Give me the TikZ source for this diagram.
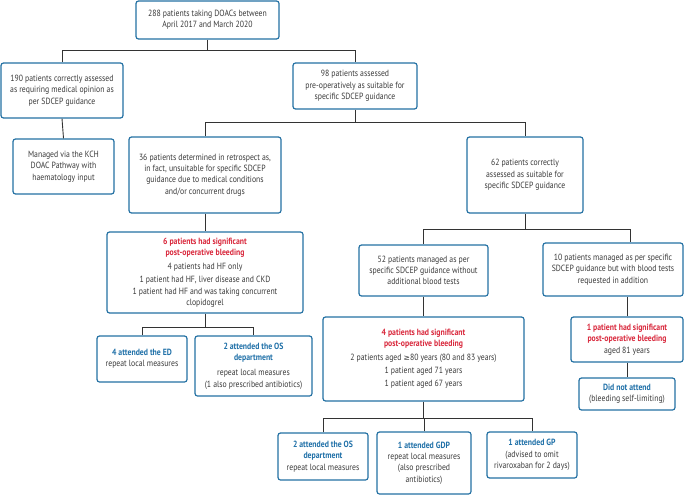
\documentclass[tikz,border=0pt]{standalone}
\usepackage{fontspec}
\setmainfont{PT Sans}[FakeStretch=0.86]
\newfontfamily\symfont{DejaVu Sans}[Scale=0.85]
\usetikzlibrary{positioning}
\definecolor{boxblue}{HTML}{2471A3}
\definecolor{headblue}{HTML}{1F70A8}
\definecolor{headred}{HTML}{D9283C}
\definecolor{txtgray}{HTML}{3A3A3A}
\definecolor{linegray}{HTML}{333333}
\newcommand{\hblue}[1]{{\bfseries\color{headblue}#1}}
\newcommand{\hred}[1]{{\bfseries\color{headred}#1}}
\tikzset{
  box/.style={draw=boxblue, line width=1.2pt, rounded corners=2.5pt, fill=white,
    align=center, inner sep=1pt, text=txtgray,
    font=\fontsize{9}{11.3}\selectfont},
  link/.style={draw=linegray, line width=0.9pt},
}

\begin{document}
\begin{tikzpicture}[x=1pt,y=-1pt]
	\useasboundingbox (0,0) rectangle (685,495);
	\node[box, minimum width=143, minimum height=38] (n288) at (207.5,20)
		{288 patients taking DOACs between\\April 2017 and March 2020};
	\node[box, minimum width=122, minimum height=55] (n190) at (62,90.5)
		{190 patients correctly assessed\\as requiring medical opinion as\\per SDCEP guidance};
	\node[box, minimum width=124, minimum height=46] (n98) at (355,86)
		{98 patients assessed\\pre-operatively as suitable for\\specific SDCEP guidance};
	\node[box, minimum width=101, minimum height=55] (kch) at (63.5,166.5)
		{Managed via the KCH\\DOAC Pathway with\\haematology input};
	\node[box, minimum width=152, minimum height=76] (n36) at (205,175)
		{36 patients determined in retrospect as,\\in fact, unsuitable for specific SDCEP\\guidance due to medical conditions\\and/or concurrent drugs};
	\node[box, minimum width=116, minimum height=76] (n62) at (525,175)
		{62 patients correctly\\assessed as suitable for\\specific SDCEP guidance};
	\node[box, minimum width=196, minimum height=81] (bleed6) at (205,272.5)
		{\hred{6 patients had significant}\\\hred{post-operative bleeding}\\[3pt]
		 4 patients had HF only\\[2pt]1 patient had HF, liver disease and CKD\\1 patient had HF and was taking concurrent\\clopidogrel};
	\node[box, minimum width=90, minimum height=46] (ed) at (142,359)
		{\hblue{4 attended the ED}\\repeat local measures};
	\node[box, minimum width=117, minimum height=60] (os1) at (253.5,366)
		{\hblue{2 attended the OS}\\\hblue{department}\\[4pt]repeat local measures\\(1 also prescribed antibiotics)};
	\node[box, minimum width=129, minimum height=51] (n52) at (423.5,270.5)
		{52 patients managed as per\\specific SDCEP guidance without\\additional blood tests};
	\node[box, minimum width=140, minimum height=53] (n10) at (613,269.5)
		{10 patients managed as per specific\\SDCEP guidance but with blood tests\\requested in addition};
	\node[box, minimum width=201, minimum height=84] (bleed4) at (423.5,359)
		{\hred{4 patients had significant}\\\hred{post-operative bleeding}\\[2pt]
		 2 patients aged {\symfont ≥}80 years (80 and 83 years)\\[2pt]1 patient aged 71 years\\[2pt]1 patient aged 67 years};
	\node[box, minimum width=112, minimum height=45] (bleed1) at (627,339.5)
		{\hred{1 patient had significant}\\\hred{post-operative bleeding}\\aged 81 years};
	\node[box, minimum width=96, minimum height=32] (dna) at (627,394)
		{\hblue{Did not attend}\\(bleeding self-limiting)};
	\node[box, minimum width=90, minimum height=47] (os2) at (323,456.5)
		{\hblue{2 attended the OS}\\\hblue{department}\\repeat local measures};
	\node[box, minimum width=94, minimum height=62] (gdp) at (424,463)
		{\hblue{1 attended GDP}\\repeat local measures\\(also prescribed\\antibiotics)};
	\node[box, minimum width=90, minimum height=46] (gp) at (532,455)
		{\hblue{1 attended GP}\\(advised to omit\\rivaroxaban for 2 days)};

	\coordinate (j1) at (0,50.7);
	\coordinate (j2) at (0,122.7);
	\coordinate (j3) at (0,229);
	\coordinate (j4) at (0,327.3);
	\coordinate (j5) at (0,418.3);

	\draw[link] (n288.south) -- (n288.south |- j1);
	\draw[link] (n190.north) -- (n190.north |- j1) -| (n98.north);
	\draw[link] (n190.south) -- (kch.north);
	\draw[link] (n98.south) -- (n98.south |- j2);
	\draw[link] (n36.north) -- (n36.north |- j2) -| (n62.north);
	\draw[link] (n36.south) -- (bleed6.north);
	\draw[link] (bleed6.south) -- (bleed6.south |- j4);
	\draw[link] (ed.north) -- (ed.north |- j4) -| (os1.north);
	\draw[link] (n62.south) -- (n62.south |- j3);
	\draw[link] (n52.north) -- (n52.north |- j3) -| ([xshift=17pt]n10.north);
	\draw[link] (n52.south) -- (bleed4.north);
	\draw[link] (bleed1.north) -- (bleed1.north |- n10.south);
	\draw[link] (bleed1.south) -- (dna.north);
	\draw[link] (bleed4.south) -- (bleed4.south |- j5);
	\draw[link] (os2.north) -- (os2.north |- j5) -| (gp.north);
	\draw[link] (gdp.north) -- (gdp.north |- j5);
\end{tikzpicture}
\end{document}
